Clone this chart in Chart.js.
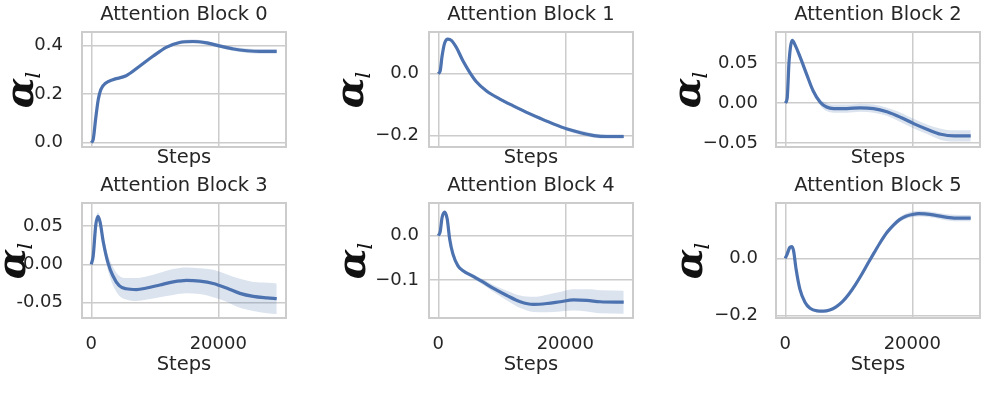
<!DOCTYPE html>
<html>
<head>
<meta charset="utf-8">
<script src="https://cdn.jsdelivr.net/npm/chart.js@4.4.1/dist/chart.umd.min.js"></script>
<style>
  html, body { margin: 0; padding: 0; background: #fff; }
  #wrap { position: relative; width: 997px; height: 396px; overflow: hidden; }
  #wrap canvas { position: absolute; }
</style>
</head>
<body>
<div id="wrap"></div>
<script>
/* ---------- data ---------- */
const titles = [
    "Attention Block 0", "Attention Block 1", "Attention Block 2",
    "Attention Block 3", "Attention Block 4", "Attention Block 5"
];

const xTicks = [0, 20000];
const xTickLabels = ["0", "20000"];
const xTitle = "Steps";

// block 0
const steps0 = [0, 300, 700, 1100, 1500, 2300, 3400, 5500, 7600, 9700, 11800, 13900, 16000, 18200, 20300, 22400, 24500, 26600, 29200];
const alpha0 = [0.0, 0.012, 0.10, 0.177, 0.218, 0.245, 0.259, 0.275, 0.314, 0.355, 0.392, 0.412, 0.416, 0.41, 0.397, 0.385, 0.378, 0.375, 0.375];
const spread0 = [0, 0.002, 0.004, 0.004, 0.004, 0.004, 0.004, 0.004, 0.005, 0.005, 0.006, 0.007, 0.008, 0.008, 0.008, 0.008, 0.009, 0.009, 0.009];
const yTicks0 = [0, 0.2, 0.4];
const yTickLabels0 = ["0.0", "0.2", "0.4"];

// block 1
const steps1 = [0, 300, 600, 1000, 1500, 2100, 2900, 3900, 5000, 6000, 7600, 9700, 11800, 13900, 16000, 18200, 20300, 22400, 24500, 26600, 29200];
const alpha1 = [0.0, 0.009, 0.057, 0.099, 0.112, 0.107, 0.083, 0.041, 0.003, -0.026, -0.056, -0.082, -0.104, -0.125, -0.144, -0.163, -0.179, -0.191, -0.2, -0.203, -0.203];
const spread1 = [0, 0.001, 0.002, 0.002, 0.002, 0.002, 0.002, 0.003, 0.003, 0.003, 0.004, 0.004, 0.005, 0.005, 0.006, 0.006, 0.006, 0.007, 0.007, 0.007, 0.007];
const yTicks1 = [-0.2, 0];
const yTickLabels1 = ["\u22120.2", "0.0"];

// block 2
const steps2 = [0, 300, 600, 1100, 1500, 2300, 3400, 4400, 5500, 6500, 7600, 9700, 11800, 13900, 16000, 18200, 20300, 22400, 24500, 26600, 29200];
const alpha2 = [0.0, 0.006, 0.052, 0.078, 0.073, 0.058, 0.035, 0.015, 0.001, -0.005, -0.007, -0.007, -0.006, -0.007, -0.011, -0.018, -0.026, -0.033, -0.039, -0.041, -0.041];
const spread2 = [0, 0.001, 0.002, 0.002, 0.002, 0.002, 0.003, 0.003, 0.004, 0.005, 0.005, 0.005, 0.005, 0.005, 0.005, 0.006, 0.006, 0.006, 0.007, 0.007, 0.007];
const yTicks2 = [-0.05, 0, 0.05];
const yTickLabels2 = ["\u22120.05", "0.00", "0.05"];

// block 3
const steps3 = [0, 300, 700, 1050, 1400, 1900, 2600, 3400, 4400, 5500, 7100, 8700, 10800, 12900, 15000, 17100, 19200, 21300, 23400, 25500, 27700, 29200];
const alpha3 = [0.0, 0.011, 0.051, 0.063, 0.055, 0.029, 0.003, -0.015, -0.028, -0.032, -0.033, -0.031, -0.027, -0.023, -0.021, -0.022, -0.025, -0.031, -0.038, -0.042, -0.044, -0.045];
const spread3 = [0, 0.003, 0.005, 0.005, 0.006, 0.008, 0.010, 0.012, 0.013, 0.014, 0.015, 0.015, 0.016, 0.017, 0.017, 0.017, 0.018, 0.018, 0.019, 0.019, 0.02, 0.02];
const yTicks3 = [-0.05, 0, 0.05];
const yTickLabels3 = ["-0.05", "0.00", "0.05"];

// block 4
const steps4 = [0, 300, 600, 1000, 1400, 1800, 2300, 3100, 3900, 5500, 7100, 8700, 10800, 12900, 15000, 17100, 19200, 21300, 23400, 25500, 29200];
const alpha4 = [0.0, 0.009, 0.041, 0.053, 0.038, -0.008, -0.041, -0.068, -0.079, -0.092, -0.105, -0.119, -0.135, -0.149, -0.155, -0.153, -0.149, -0.145, -0.146, -0.149, -0.150];
const spread4 = [0, 0.001, 0.002, 0.003, 0.003, 0.003, 0.004, 0.004, 0.004, 0.005, 0.006, 0.008, 0.011, 0.014, 0.017, 0.02, 0.022, 0.024, 0.025, 0.026, 0.026];
const yTicks4 = [-0.1, 0];
const yTickLabels4 = ["\u22120.1", "0.0"];

// block 5
const steps5 = [0, 300, 700, 1000, 1300, 1700, 2300, 3100, 3900, 5000, 6000, 7000, 8000, 9000, 10000, 11000, 12000, 13000, 14000, 15000, 16000, 17000, 18000, 19000, 20000, 21000, 22000, 23500, 25500, 27700, 29200];
const alpha5 = [0.0, 0.015, 0.038, 0.041, 0.027, -0.037, -0.107, -0.153, -0.174, -0.183, -0.184, -0.180, -0.169, -0.151, -0.125, -0.093, -0.057, -0.018, 0.020, 0.057, 0.090, 0.115, 0.135, 0.147, 0.153, 0.156, 0.155, 0.151, 0.143, 0.140, 0.140];
const spread5 = [0, 0.002, 0.003, 0.003, 0.003, 0.003, 0.003, 0.003, 0.003, 0.003, 0.003, 0.004, 0.004, 0.004, 0.005, 0.005, 0.005, 0.006, 0.006, 0.007, 0.008, 0.008, 0.009, 0.009, 0.01, 0.01, 0.01, 0.01, 0.011, 0.011, 0.011];
const yTicks5 = [-0.2, 0];
const yTickLabels5 = ["\u22120.2", "0.0"];

/* ---------- layout (pixels / axis ranges) ---------- */
const BOX_W = 204, BOX_H = 115;
const LINE = "#4c72b0", BAND = "rgba(76,114,176,0.2)";
const INK = "#262626", GRID = "#cccccc";
const FONT = "'DejaVu Sans', sans-serif";

const panels = [
    { steps: steps0, vals: alpha0, sd: spread0, yt: yTicks0, yl: yTickLabels0,
      left: 82, top: 32, cv: 0, yMin: -0.018, yMax: 0.455, pad: 19, ax: 33, row: 0 },
    { steps: steps1, vals: alpha1, sd: spread1, yt: yTicks1, yl: yTickLabels1,
      left: 429, top: 32, cv: 329, yMin: -0.237, yMax: 0.135, pad: 10, ax: 34, row: 0 },
    { steps: steps2, vals: alpha2, sd: spread2, yt: yTicks2, yl: yTickLabels2,
      left: 776, top: 32, cv: 676, yMin: -0.0548, yMax: 0.0884, pad: 18, ax: 24, row: 0 },
    { steps: steps3, vals: alpha3, sd: spread3, yt: yTicks3, yl: yTickLabels3,
      left: 82, top: 203, cv: 0, yMin: -0.0703, yMax: 0.0804, pad: 19, ax: 25, row: 1 },
    { steps: steps4, vals: alpha4, sd: spread4, yt: yTicks4, yl: yTickLabels4,
      left: 429, top: 203, cv: 329, yMin: -0.1857, yMax: 0.0737, pad: 10, ax: 36, row: 1 },
    { steps: steps5, vals: alpha5, sd: spread5, yt: yTicks5, yl: yTickLabels5,
      left: 776, top: 203, cv: 676, yMin: -0.208, yMax: 0.193, pad: 18, ax: 26, row: 1 }
];

/* ---------- frame + alpha_l label ---------- */
const frameAndLabel = {
    id: "frameAndLabel",
    afterDatasetsDraw(chart) {
        const { ctx, chartArea: a } = chart;
        ctx.save();
        ctx.strokeStyle = GRID;
        ctx.lineWidth = 2;
        ctx.strokeRect(a.left, a.top, a.right - a.left, a.bottom - a.top);
        ctx.restore();
    },
    afterDraw(chart, args, opts) {
        const { ctx, chartArea: a } = chart;
        const cy = (a.top + a.bottom) / 2;
        const big = "italic bold 40px 'DejaVu Serif', serif";
        const small = "italic 21px 'DejaVu Serif', serif";
        ctx.save();
        ctx.translate(opts.x, cy);
        ctx.rotate(-Math.PI / 2);
        ctx.fillStyle = "#111";
        ctx.textBaseline = "alphabetic";
        ctx.textAlign = "left";
        ctx.font = big;
        const wA = ctx.measureText("\u03b1").width;
        ctx.font = small;
        const wL = ctx.measureText("l").width;
        const x0 = -(wA + wL) / 2;
        ctx.font = big;
        ctx.fillText("\u03b1", x0, 0);
        ctx.font = small;
        ctx.fillText("l", x0 + wA - 1, 7);
        ctx.restore();
    }
};

/* ---------- build charts ---------- */
const wrap = document.getElementById("wrap");

panels.forEach((p, i) => {
    const axisW = p.left - p.cv;
    const cTop = p.top - 32;
    const cH = p.row === 0 ? 190 : 396 - cTop;
    const cW = axisW * 2 + BOX_W;      // symmetric so the title centres on the plot box
    const xAxisH = cH - 32 - BOX_H;

    const c = document.createElement("canvas");
    c.width = cW; c.height = cH;
    c.style.left = p.cv + "px";
    c.style.top = cTop + "px";
    c.style.width = cW + "px";
    c.style.height = cH + "px";
    wrap.appendChild(c);

    const mean = p.steps.map((s, k) => ({ x: s, y: p.vals[k] }));
    const upper = p.steps.map((s, k) => ({ x: s, y: p.vals[k] + p.sd[k] }));
    const lower = p.steps.map((s, k) => ({ x: s, y: p.vals[k] - p.sd[k] }));

    new Chart(c, {
        type: "line",
        data: {
            datasets: [
                { data: mean, borderColor: LINE, borderWidth: 3.2, pointRadius: 0,
                  cubicInterpolationMode: "monotone", fill: false },
                { data: upper, borderWidth: 0, borderColor: "rgba(0,0,0,0)", pointRadius: 0,
                  cubicInterpolationMode: "monotone", backgroundColor: BAND, fill: "+1" },
                { data: lower, borderWidth: 0, borderColor: "rgba(0,0,0,0)", pointRadius: 0,
                  cubicInterpolationMode: "monotone", fill: false }
            ]
        },
        options: {
            responsive: false,
            animation: false,
            devicePixelRatio: 1,
            layout: { padding: 0 },
            plugins: {
                legend: { display: false },
                tooltip: { enabled: false },
                title: {
                    display: true,
                    text: titles[i],
                    color: INK,
                    font: { family: FONT, size: 19.5, weight: "normal", lineHeight: 1 },
                    padding: { top: 5, bottom: 7.5 }
                },
                frameAndLabel: { x: p.ax }
            },
            scales: {
                x: {
                    type: "linear",
                    min: -1460,
                    max: 30660,
                    afterBuildTicks: s => { s.ticks = xTicks.map(v => ({ value: v })); },
                    afterFit: s => { s.height = xAxisH; },
                    grid: { color: GRID, lineWidth: 1.5, drawTicks: false },
                    border: { display: false },
                    ticks: {
                        display: p.row === 1,
                        color: INK,
                        padding: 16,
                        maxRotation: 0,
                        font: { family: FONT, size: 18 },
                        callback: v => xTickLabels[xTicks.indexOf(v)]
                    },
                    title: {
                        display: true,
                        text: xTitle,
                        color: INK,
                        font: { family: FONT, size: 19.5 },
                        padding: { top: 0, bottom: p.row === 0 ? 20.3 : 19.3 }
                    }
                },
                y: {
                    type: "linear",
                    min: p.yMin,
                    max: p.yMax,
                    afterBuildTicks: s => { s.ticks = p.yt.map(v => ({ value: v })); },
                    afterFit: s => { s.width = axisW; },
                    grid: { color: GRID, lineWidth: 1.5, drawTicks: false },
                    border: { display: false },
                    ticks: {
                        color: INK,
                        padding: p.pad,
                        font: { family: FONT, size: 18 },
                        callback: v => p.yl[p.yt.indexOf(v)]
                    }
                },
                // empty right-hand spacer so the title is centred over the plot box
                yRight: {
                    type: "linear",
                    position: "right",
                    min: 0,
                    max: 1,
                    afterFit: s => { s.width = axisW; },
                    grid: { display: false },
                    border: { display: false },
                    ticks: { display: false }
                }
            }
        },
        plugins: [frameAndLabel]
    });
});
</script>
</body>
</html>
